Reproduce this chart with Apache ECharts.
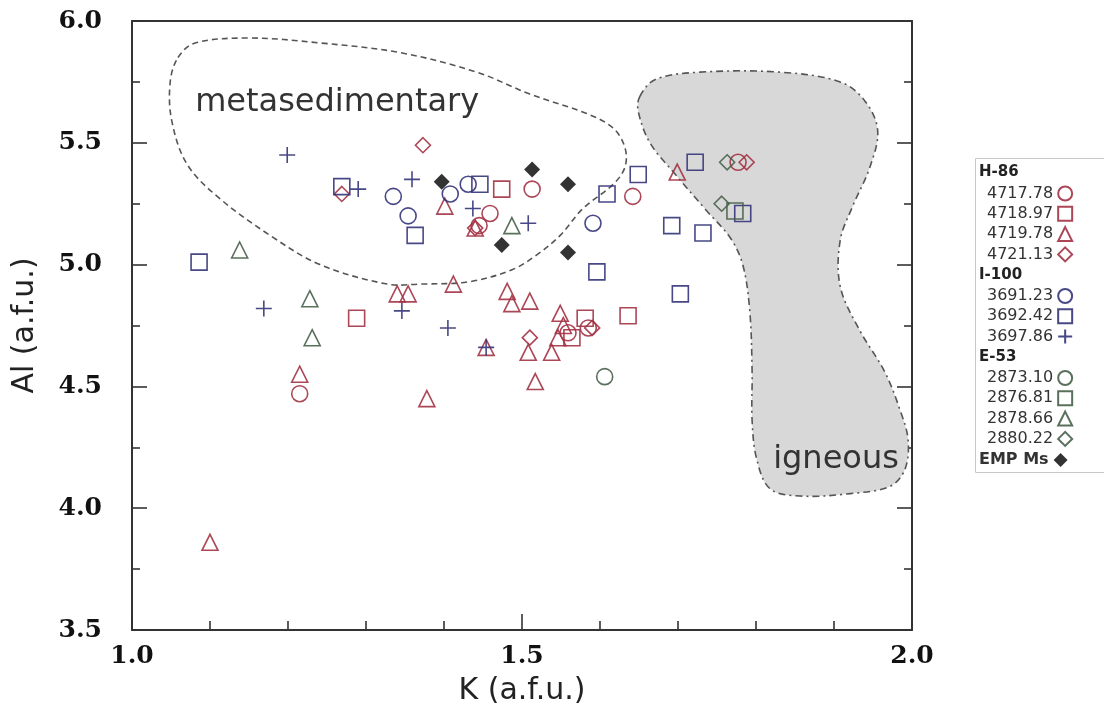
<!DOCTYPE html>
<html>
<head>
<meta charset="utf-8">
<script src="https://cdn.jsdelivr.net/npm/echarts@6/dist/echarts.min.js"></script>
<style>
  html, body { margin: 0; padding: 0; background: #fff; }
  #chart { width: 1104px; height: 711px; }
</style>
</head>
<body>
<div id="chart"></div>
<script>
// K (a.f.u.), Al (a.f.u.) pairs per sample
var h86Circle = [[1.215, 4.47], [1.459, 5.21], [1.513, 5.31], [1.445, 5.16], [1.642, 5.28], [1.777, 5.42], [1.559, 4.72], [1.585, 4.74]];
var h86Square = [[1.288, 4.78], [1.474, 5.31], [1.636, 4.79], [1.581, 4.78], [1.564, 4.70]];
var h86Triangle = [[1.215, 4.55], [1.100, 3.86], [1.401, 5.24], [1.440, 5.15], [1.699, 5.38], [1.340, 4.88], [1.354, 4.88],
  [1.412, 4.92], [1.481, 4.89], [1.487, 4.84], [1.510, 4.85], [1.454, 4.66], [1.508, 4.64], [1.538, 4.64], [1.517, 4.52],
  [1.378, 4.45], [1.549, 4.80], [1.553, 4.75], [1.546, 4.70]];
var h86Diamond = [[1.373, 5.49], [1.269, 5.29], [1.440, 5.15], [1.788, 5.42], [1.510, 4.70], [1.590, 4.74]];
var i100Circle = [[1.335, 5.28], [1.354, 5.20], [1.408, 5.29], [1.431, 5.33], [1.591, 5.17]];
var i100Square = [[1.269, 5.32], [1.086, 5.01], [1.363, 5.12], [1.446, 5.33], [1.596, 4.97], [1.649, 5.37], [1.609, 5.29],
  [1.722, 5.42], [1.692, 5.16], [1.732, 5.13], [1.703, 4.88], [1.783, 5.21]];
var i100Plus = [[1.199, 5.45], [1.290, 5.31], [1.359, 5.35], [1.169, 4.82], [1.346, 4.81], [1.405, 4.74], [1.437, 5.23], [1.508, 5.17], [1.454, 4.66]];
var e53Circle = [[1.606, 4.54]];
var e53Square = [[1.773, 5.22]];
var e53Triangle = [[1.138, 5.06], [1.228, 4.86], [1.231, 4.70], [1.487, 5.16]];
var e53Diamond = [[1.763, 5.42], [1.756, 5.25]];
var empMs = [[1.397, 5.34], [1.513, 5.39], [1.559, 5.33], [1.474, 5.08], [1.559, 5.05]];

// field outlines
var metaOutline = [[1.059, 5.85], [1.081, 5.91], [1.151, 5.93], [1.241, 5.91], [1.344, 5.87], [1.442, 5.79], [1.510, 5.70],
  [1.583, 5.62], [1.617, 5.56], [1.632, 5.48], [1.632, 5.40], [1.617, 5.33], [1.578, 5.23], [1.549, 5.12], [1.519, 5.04],
  [1.488, 4.98], [1.433, 4.93], [1.369, 4.92], [1.327, 4.92], [1.241, 5.00], [1.177, 5.12], [1.113, 5.27], [1.071, 5.41],
  [1.051, 5.59], [1.049, 5.75]];
var igneousOutline = [[1.651, 5.69], [1.671, 5.76], [1.728, 5.79], [1.831, 5.79], [1.908, 5.75], [1.940, 5.67], [1.956, 5.55],
  [1.946, 5.40], [1.924, 5.24], [1.908, 5.10], [1.908, 4.91], [1.933, 4.73], [1.965, 4.56], [1.985, 4.40], [1.995, 4.28],
  [1.991, 4.16], [1.972, 4.09], [1.921, 4.06], [1.856, 4.05], [1.818, 4.08], [1.801, 4.20], [1.795, 4.36], [1.795, 4.56],
  [1.792, 4.81], [1.783, 5.00], [1.767, 5.11], [1.737, 5.22], [1.694, 5.38], [1.664, 5.50], [1.649, 5.63]];
var fieldLabels = [[1.081, 5.665, 'metasedimentary'], [1.822, 4.20, 'igneous']];

var xTicks = [1.0, 1.5, 2.0];
var yTicks = [3.5, 4.0, 4.5, 5.0, 5.5, 6.0];

var RED = '#a33345', BLUE = '#34347a', GREEN = '#47604a';
var PLUS = 'path://M0,6L12,6M6,0L6,12';

function hollow(name, data, symbol, color, size) {
  return {
    name: name,
    type: 'scatter',
    data: data,
    symbol: symbol,
    symbolSize: size || 16,
    z: 3,
    itemStyle: { color: 'rgba(255,255,255,0)', borderColor: color, borderWidth: 1.6, opacity: 0.9 }
  };
}

var myChart = echarts.init(document.getElementById('chart'));

function legendGroup(names, top, left, bold) {
  return {
    orient: 'vertical',
    align: 'right',
    left: left,
    top: top,
    padding: 0,
    itemGap: 4.3,
    itemWidth: 14,
    itemHeight: 14,
    selectedMode: false,
    textStyle: { fontFamily: 'DejaVu Sans', fontSize: 16, lineHeight: 14, color: '#333', fontWeight: bold ? 'bold' : 'normal' },
    data: names
  };
}

var option = {
  backgroundColor: '#fff',
  animation: false,
  grid: { left: 132, right: 192, top: 21, bottom: 81, containLabel: false },
  legend: [
    legendGroup(['4717.78', '4718.97', '4719.78', '4721.13'], 185.5, 987),
    legendGroup(['3691.23', '3692.42', '3697.86'], 288, 987),
    legendGroup(['2873.10', '2876.81', '2878.66', '2880.22'], 370, 987),
    legendGroup(['EMP Ms'], 452, 979, true)
  ],
  graphic: [
    { type: 'rect', left: 975, top: 158, shape: { width: 140, height: 314 }, style: { fill: '#fff', stroke: '#c8c8c8', lineWidth: 1 }, z: 0 },
    { type: 'text', left: 979, top: 165, style: { text: 'H-86', font: 'bold 15px "DejaVu Sans"', fill: '#222' } },
    { type: 'text', left: 979, top: 268, style: { text: 'I-100', font: 'bold 15px "DejaVu Sans"', fill: '#222' } },
    { type: 'text', left: 979, top: 350, style: { text: 'E-53', font: 'bold 15px "DejaVu Sans"', fill: '#222' } }
  ],
  xAxis: [
    {
      type: 'value',
      min: 1.0,
      max: 2.0,
      interval: 0.5,
      position: 'bottom',
      name: 'K (a.f.u.)',
      nameLocation: 'middle',
      nameGap: 46,
      nameTextStyle: { fontFamily: 'DejaVu Sans', fontSize: 30, color: '#222' },
      axisLine: { lineStyle: { color: '#333', width: 2 } },
      axisTick: { inside: true, length: 16, lineStyle: { color: '#333', width: 1.6 } },
      minorTick: { show: true, splitNumber: 5, length: 9, lineStyle: { color: '#333', width: 1.6 } },
      splitLine: { show: false },
      axisLabel: {
        margin: 14,
        fontFamily: 'DejaVu Serif',
        fontWeight: 'bold',
        fontSize: 25,
        color: '#111',
        formatter: function (v) { return xTicks.indexOf(v) >= 0 ? v.toFixed(1) : ''; }
      }
    },
    {
      type: 'value',
      min: 1.0,
      max: 2.0,
      position: 'top',
      axisLine: { show: true, lineStyle: { color: '#333', width: 2 } },
      axisTick: { show: false },
      axisLabel: { show: false },
      splitLine: { show: false }
    }
  ],
  yAxis: [
    {
      type: 'value',
      min: 3.5,
      max: 6.0,
      interval: 0.5,
      position: 'left',
      name: 'Al (a.f.u.)',
      nameLocation: 'middle',
      nameGap: 92,
      nameRotate: 90,
      nameTextStyle: { fontFamily: 'DejaVu Sans', fontSize: 30, color: '#222' },
      axisLine: { lineStyle: { color: '#333', width: 2 } },
      axisTick: { inside: true, length: 15, lineStyle: { color: '#333', width: 1.6 } },
      minorTick: { show: true, splitNumber: 2, length: 8, lineStyle: { color: '#333', width: 1.6 } },
      splitLine: { show: false },
      axisLabel: {
        margin: 30,
        fontFamily: 'DejaVu Serif',
        fontWeight: 'bold',
        fontSize: 25,
        color: '#111',
        formatter: function (v) { return yTicks.indexOf(v) >= 0 ? v.toFixed(1) : ''; }
      }
    },
    {
      type: 'value',
      min: 3.5,
      max: 6.0,
      interval: 0.5,
      position: 'right',
      axisLine: { show: true, lineStyle: { color: '#333', width: 2 } },
      axisTick: { inside: true, length: 15, lineStyle: { color: '#333', width: 1.6 } },
      minorTick: { show: true, splitNumber: 2, length: 8, lineStyle: { color: '#333', width: 1.6 } },
      axisLabel: { show: false },
      splitLine: { show: false }
    }
  ],
  series: [
    {
      type: 'custom',
      coordinateSystem: 'cartesian2d',
      silent: true,
      z: 1,
      data: [[1.5, 5.0]],
      renderItem: function (params, api) {
        var ign = igneousOutline.map(function (p) { return api.coord(p); });
        var meta = metaOutline.map(function (p) { return api.coord(p); });
        var children = [
          {
            type: 'polygon',
            shape: { points: ign, smooth: 0.35 },
            style: { fill: '#d8d8d8', stroke: '#555', lineWidth: 1.6, lineDash: [7, 4, 2, 4] }
          },
          {
            type: 'polygon',
            shape: { points: meta, smooth: 0.35 },
            style: { fill: 'none', stroke: '#555', lineWidth: 1.6, lineDash: [6, 4] }
          }
        ];
        fieldLabels.forEach(function (f) {
          var pt = api.coord([f[0], f[1]]);
          children.push({
            type: 'text',
            style: { x: pt[0], y: pt[1], text: f[2], fontFamily: 'DejaVu Sans', fontSize: 32, fill: '#333', align: 'left', verticalAlign: 'middle' }
          });
        });
        return { type: 'group', children: children };
      }
    },
    hollow('4717.78', h86Circle, 'circle', RED),
    hollow('4718.97', h86Square, 'rect', RED),
    hollow('4719.78', h86Triangle, 'triangle', RED),
    hollow('4721.13', h86Diamond, 'diamond', RED, 15),
    hollow('3691.23', i100Circle, 'circle', BLUE),
    hollow('3692.42', i100Square, 'rect', BLUE),
    hollow('3697.86', i100Plus, PLUS, BLUE, 16),
    hollow('2873.10', e53Circle, 'circle', GREEN),
    hollow('2876.81', e53Square, 'rect', GREEN),
    hollow('2878.66', e53Triangle, 'triangle', GREEN),
    hollow('2880.22', e53Diamond, 'diamond', GREEN, 15),
    {
      name: 'EMP Ms',
      type: 'scatter',
      data: empMs,
      symbol: 'diamond',
      symbolSize: 16,
      z: 4,
      itemStyle: { color: '#000' }
    }
  ]
};

myChart.setOption(option);
</script>
</body>
</html>
